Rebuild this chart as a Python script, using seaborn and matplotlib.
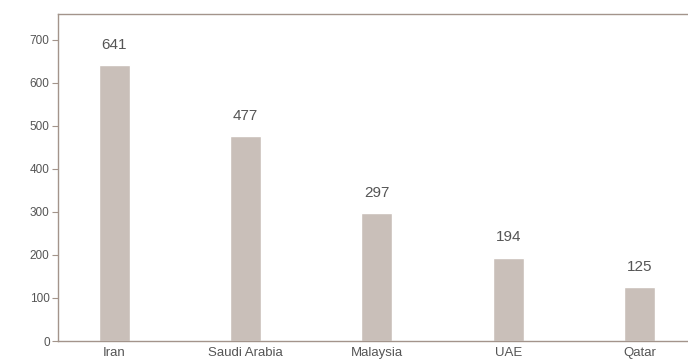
import pandas as pd
import numpy as np
import matplotlib.pyplot as plt
import seaborn as sns

countries = ["Iran", "Saudi Arabia", "Malaysia", "UAE", "Qatar"]
values = [641, 477, 297, 194, 125]
yticks = [0, 100, 200, 300, 400, 500, 600, 700]

sns.set_style("white")
plt.rcParams['font.family'] = ['Liberation Sans', 'DejaVu Sans']

df = pd.DataFrame({"country": countries, "value": values})

bar_col = "#c9bfb9"
spine_col = "#a3948b"
text_col = "#555555"

fig = plt.figure(figsize=(6.88, 3.62), dpi=100)
ax = fig.add_axes([0.0843, 0.058, 0.9157, 0.903])
sns.barplot(data=df, x="country", y="value", color=bar_col, width=0.236,
            saturation=1, ax=ax)

for i, v in enumerate(values):
    ax.text(i, v + 31, str(v), ha="center", va="bottom", fontsize=11, color=text_col)

ax.set_xlim(-0.43, 4.37)
ax.set_ylim(0, 760)
ax.set_yticks(yticks)
ax.set_xlabel("")
ax.set_ylabel("")
ax.spines["right"].set_visible(False)
for s in ["left", "top", "bottom"]:
    ax.spines[s].set_color(spine_col)
    ax.spines[s].set_linewidth(1.0)
ax.tick_params(axis="y", length=4, width=0.8, color=spine_col, labelsize=8.5,
               labelcolor=text_col, pad=2, left=True)
ax.tick_params(axis="x", length=0, labelsize=9.5, labelcolor=text_col, pad=4.5)

plt.savefig("out.png", dpi=100)
plt.close()
